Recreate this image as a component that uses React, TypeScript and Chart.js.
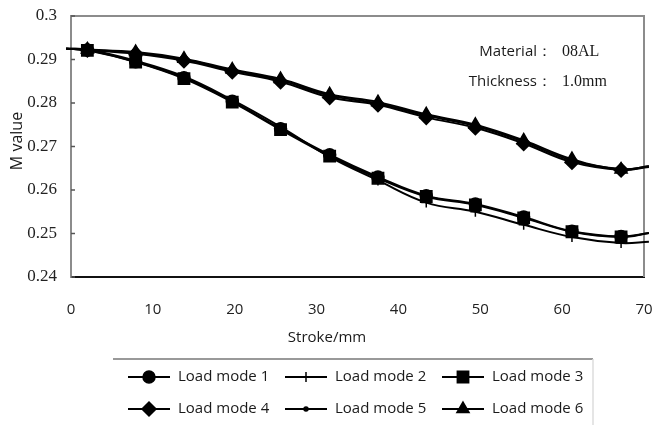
import React, { useEffect, useRef } from 'react';
import { Chart, registerables } from 'chart.js';
import { drawPoint } from 'chart.js/helpers';

Chart.register(...registerables);

// ---- data ----
const strokeMm = [-0.6, 2.0, 7.9, 13.8, 19.7, 25.6, 31.6, 37.5, 43.4, 49.4, 55.3, 61.2, 67.2, 70.6];
const loadMode1 = [0.2925, 0.2922, 0.2895, 0.2858, 0.2804, 0.2741, 0.2681, 0.2630, 0.2587, 0.2568, 0.2538, 0.2505, 0.2493, 0.2501];
const loadMode2 = [0.2925, 0.2923, 0.2897, 0.2861, 0.2807, 0.2745, 0.2676, 0.2622, 0.2571, 0.2550, 0.2520, 0.2492, 0.2478, 0.2481];
const loadMode3 = [0.2925, 0.2921, 0.2894, 0.2856, 0.2802, 0.2739, 0.2678, 0.2627, 0.2585, 0.2566, 0.2536, 0.2504, 0.2492, 0.2501];
const loadMode4 = [0.2925, 0.2922, 0.2913, 0.2897, 0.2872, 0.2849, 0.2813, 0.2796, 0.2767, 0.2743, 0.2707, 0.2664, 0.2646, 0.2653];
const loadMode5 = [0.2925, 0.2922, 0.2915, 0.2900, 0.2875, 0.2852, 0.2817, 0.2799, 0.2771, 0.2747, 0.2711, 0.2668, 0.2648, 0.2654];
const loadMode6 = [0.2925, 0.2923, 0.2917, 0.2902, 0.2877, 0.2855, 0.2820, 0.2802, 0.2774, 0.2750, 0.2714, 0.2671, 0.2647, 0.2655];
const seriesLabels = ['Load mode 1', 'Load mode 2', 'Load mode 3', 'Load mode 4', 'Load mode 5', 'Load mode 6'];
const xTickValues = [0, 10, 20, 30, 40, 50, 60, 70];
const yTickValues = [0.24, 0.25, 0.26, 0.27, 0.28, 0.29, 0.3];
const xAxisTitle = 'Stroke/mm';
const yAxisTitle = 'M value';
const noteLabels = ['Material：', 'Thickness：'];
const noteValues = ['08AL', '1.0mm'];

const allSeries = [loadMode1, loadMode2, loadMode3, loadMode4, loadMode5, loadMode6];
const markerStyles: any[] = [
  { pointStyle: 'circle', radius: 6, order: 2 },
  { pointStyle: 'cross', radius: 5, order: 1 },
  { pointStyle: 'rect', radius: 8, order: 0 },
  { pointStyle: 'rectRot', radius: 7, order: 0 },
  { pointStyle: 'circle', radius: 2, order: 1 },
  { pointStyle: 'triangle', radius: 7, order: 2 },
];

const SANS = '"Open Sans"';
const SERIF = '"Liberation Serif"';

const overlayPlugin = {
  id: 'overlay',
  beforeDatasetsDraw(chart: any) {
    const { ctx, chartArea: a, scales } = chart;
    ctx.save();
    ctx.strokeStyle = '#8c8c8c';
    ctx.lineWidth = 2;
    ctx.beginPath();
    ctx.moveTo(a.left, a.top);
    ctx.lineTo(a.right, a.top);
    ctx.lineTo(a.right, a.bottom);
    ctx.stroke();
    ctx.lineWidth = 1.5;
    ctx.strokeStyle = '#555';
    for (const v of yTickValues) {
      const y = scales.y.getPixelForValue(v);
      ctx.beginPath();
      ctx.moveTo(a.left, y);
      ctx.lineTo(a.left + 4, y);
      ctx.stroke();
    }
    ctx.restore();
  },
  afterDraw(chart: any) {
    const { ctx } = chart;
    ctx.save();
    ctx.fillStyle = '#1a1a1a';
    ctx.textAlign = 'center';
    ctx.textBaseline = 'middle';
    ctx.font = `15px ${SANS}`;
    ctx.fillText(xAxisTitle, 327, 338);
    ctx.save();
    ctx.translate(17, 141);
    ctx.rotate(-Math.PI / 2);
    ctx.font = `16px ${SANS}`;
    ctx.fillText(yAxisTitle, 0, 0);
    ctx.restore();

    ctx.textAlign = 'right';
    ctx.font = `15px ${SANS}`;
    ctx.fillText(noteLabels[0], 552, 52);
    ctx.fillText(noteLabels[1], 552, 82);
    ctx.textAlign = 'left';
    ctx.font = `16px ${SERIF}`;
    ctx.fillText(noteValues[0], 562, 52);
    ctx.fillText(noteValues[1], 562, 82);

    ctx.strokeStyle = '#777';
    ctx.lineWidth = 1.5;
    ctx.beginPath();
    ctx.moveTo(113, 359);
    ctx.lineTo(593, 359);
    ctx.stroke();
    ctx.strokeStyle = '#ddd';
    ctx.beginPath();
    ctx.moveTo(593, 359);
    ctx.lineTo(593, 425);
    ctx.stroke();

    const colX = [128, 285, 442];
    const rowY = [377, 409];
    chart.data.datasets.forEach((ds: any, i: number) => {
      const x0 = colX[i % 3];
      const y0 = rowY[Math.floor(i / 3)];
      ctx.strokeStyle = '#000';
      ctx.fillStyle = '#000';
      ctx.lineWidth = 2;
      ctx.beginPath();
      ctx.moveTo(x0, y0);
      ctx.lineTo(x0 + 42, y0);
      ctx.stroke();
      ctx.lineWidth = 1.5;
      drawPoint(ctx, { pointStyle: markerStyles[i].pointStyle, radius: markerStyles[i].radius, rotation: 0, borderWidth: 1.5 } as any, x0 + 21, y0);
      ctx.fillStyle = '#1a1a1a';
      ctx.font = `15px ${SANS}`;
      ctx.textAlign = 'left';
      ctx.textBaseline = 'middle';
      ctx.fillText(ds.label, x0 + 50, y0);
    });
    ctx.restore();
  },
};

export default function App() {
  const ref = useRef<HTMLCanvasElement>(null);
  useEffect(() => {
    let chart: any = null;
    let cancelled = false;
    const build = () => {
      if (cancelled || !ref.current) return;
      const n = strokeMm.length;
      const datasets = allSeries.map((vals, i) => ({
        label: seriesLabels[i],
        data: strokeMm.map((x, j) => ({ x, y: vals[j] })),
        borderColor: '#000',
        backgroundColor: '#000',
        borderWidth: 2,
        tension: 0.4,
        pointStyle: markerStyles[i].pointStyle,
        pointRadius: strokeMm.map((_, j) => (j === 0 || j === n - 1 ? 0 : markerStyles[i].radius)),
        pointBorderWidth: 1.5,
        pointBorderColor: '#000',
        pointBackgroundColor: '#000',
        order: markerStyles[i].order,
        clip: false as any,
      }));
      chart = new Chart(ref.current, {
        type: 'line',
        data: { datasets },
        plugins: [overlayPlugin],
        options: {
          animation: false,
          responsive: true,
          maintainAspectRatio: false,
          layout: { padding: { left: 0, right: 11, top: 16, bottom: 0 } },
          plugins: { legend: { display: false }, tooltip: { enabled: false } },
          scales: {
            x: {
              type: 'linear',
              min: 0,
              max: 70,
              afterFit: (s: any) => { s.height = 148; s.paddingLeft = 0; s.paddingRight = 0; },
              afterBuildTicks: (s: any) => { s.ticks = xTickValues.map((v) => ({ value: v })); },
              grid: { display: false, drawTicks: false },
              border: { display: true, color: '#111', width: 2 },
              ticks: { font: { family: SANS, size: 15 }, color: '#222', padding: 24, maxRotation: 0 },
            },
            y: {
              type: 'linear',
              min: 0.24,
              max: 0.3,
              afterFit: (s: any) => { s.width = 71; s.paddingTop = 0; s.paddingBottom = 0; },
              afterBuildTicks: (s: any) => { s.ticks = yTickValues.map((v) => ({ value: v })); },
              grid: { display: false, drawTicks: false },
              border: { display: true, color: '#8c8c8c', width: 2 },
              ticks: {
                font: { family: SERIF, size: 17 },
                color: '#222',
                padding: 14,
                callback: (v: any) => String(Number(Number(v).toFixed(2))),
              },
            },
          },
        },
      });
    };
    const fonts: any = (document as any).fonts;
    const loads = fonts
      ? Promise.all([fonts.load(`15px ${SANS}`), fonts.load(`16px ${SERIF}`)]).catch(() => null)
      : Promise.resolve(null);
    loads.then(build);
    return () => {
      cancelled = true;
      if (chart) chart.destroy();
    };
  }, []);
  return (
    <div style={{ position: 'absolute', left: 0, top: 0, width: 655, height: 425, background: '#fff' }}>
      <canvas ref={ref} />
    </div>
  );
}
